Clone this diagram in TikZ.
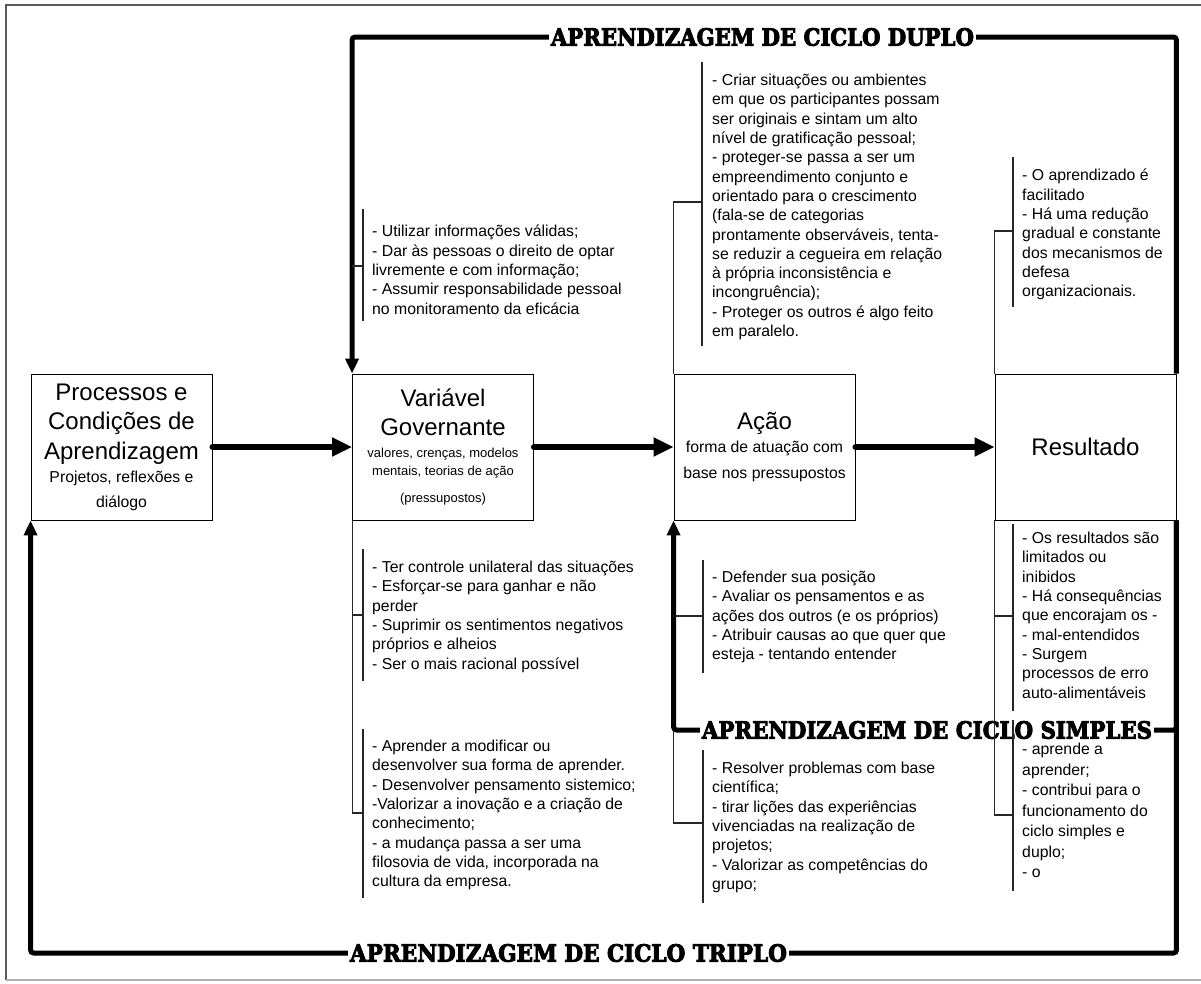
\documentclass[tikz,border=0pt]{standalone}
\usepackage{fontspec}
\setmainfont{Liberation Sans}
\newfontfamily\loopfont{DejaVu Serif}[BoldFeatures={FakeBold=4}]
\usepackage{graphicx}
\usepackage{tikz}
\usetikzlibrary{arrows.meta}
\usetikzlibrary{positioning}

\newcommand{\boxfont}{\fontsize{24}{29.5}\selectfont}
\newcommand{\annotfont}{\fontsize{15.8}{19.3}\selectfont}
\newcommand{\subfont}{\fontsize{15.8}{19.3}\selectfont}
\newcommand{\tinyfont}{\fontsize{13}{16}\selectfont}
\newcommand{\cyclelabel}[2]{\resizebox{#1}{17.5pt}{\loopfont\bfseries #2}}

\begin{document}
\begin{tikzpicture}[x=1pt,y=-1pt,
  stage/.style={draw, line width=0.9pt, minimum width=181pt, minimum height=146pt, inner sep=0pt, align=center, font=\boxfont},
  flow/.style={line width=6pt, line cap=round, -{Triangle[length=20pt,width=18pt]}},
  loopline/.style={line width=5pt, rounded corners=3pt},
  looparrow/.style={loopline, -{Triangle[length=15pt,width=13pt]}},
  cyclename/.style={inner xsep=2pt, inner ysep=0pt},
  remark/.style={anchor=north west, inner sep=0pt, align=left, font=\annotfont},
  brace/.style={line width=1.1pt, black!85}]

  \useasboundingbox (0,0) rectangle (1201,983);

  % outer frame
  \draw[black!65, line width=2pt] (6,980) -- (6,5) -- (1210,5);
  \draw[black!30, line width=1.5pt] (6,980) -- (1210,980);

  % the four stages
  \node[stage] (proc) at (121.5,447) {Processos e\\Condições de\\Aprendizagem\\[-6.5pt]{\subfont Projetos, reflexões e}\\[-4.5pt]{\subfont diálogo}};
  \node[stage] (var) at (443,447) {Variável\\Governante\\[-7.5pt]{\tinyfont valores, crenças, modelos}\\[-11.5pt]{\tinyfont mentais, teorias de ação}\\[-2.5pt]{\tinyfont (pressupostos)}};
  \node[stage] (act) at (764.5,447) {Ação\\[-6.5pt]{\subfont forma de atuação com}\\[-3.5pt]{\subfont base nos pressupostos}};
  \node[stage] (res) at (1085.5,447) {Resultado};

  \draw[flow] (proc) -- (var);
  \draw[flow] (var) -- (act);
  \draw[flow] (act) -- (res);

  % learning loops
  \node[cyclename] (dup) at (762.5,37) {\cyclelabel{423pt}{APRENDIZAGEM DE CICLO DUPLO}};
  \node[cyclename] (simp) at (927,730) {\cyclelabel{450pt}{APRENDIZAGEM DE CICLO SIMPLES}};
  \node[cyclename] (trip) at (568.5,953) {\cyclelabel{437pt}{APRENDIZAGEM DE CICLO TRIPLO}};

  \draw[loopline] (res.north east) |- (dup.east);
  \draw[looparrow] (dup.west) -| (var.north west);
  \draw[loopline] (res.south east) |- (trip.east);
  \draw[loopline] (res.south east) |- (simp.east);
  \draw[looparrow] (simp.west) -| (act.south west);
  \draw[looparrow] (trip.west) -| (proc.south west);

  % notes above the stages
  \node[remark] (vtop) at (372,225) {- Utilizar informações válidas;\\- Dar às pessoas o direito de optar\\livremente e com informação;\\- Assumir responsabilidade pessoal\\no monitoramento da eficácia};
  \node[remark] (atop) at (712,74) {- Criar situações ou ambientes\\em que os participantes possam\\ser originais e sintam um alto\\nível de gratificação pessoal;\\- proteger-se passa a ser um\\empreendimento conjunto e\\orientado para o crescimento\\(fala-se de categorias\\prontamente observáveis, tenta-\\se reduzir a cegueira em relação\\à própria inconsistência e\\incongruência);\\- Proteger os outros é algo feito\\em paralelo.};
  \node[remark] (rtop) at (1022,169) {- O aprendizado é\\facilitado\\- Há uma redução\\gradual e constante\\dos mecanismos de\\defesa\\organizacionais.};

  % notes below the stages
  \node[remark] (vbot) at (372,561) {- Ter controle unilateral das situações\\- Esforçar-se para ganhar e não\\perder\\- Suprimir os sentimentos negativos\\próprios e alheios\\- Ser o mais racional possível};
  \node[remark] (vlow) at (372,740) {- Aprender a modificar ou\\desenvolver sua forma de aprender.\\- Desenvolver pensamento sistemico;\\-Valorizar a inovação e a criação de\\conhecimento;\\- a mudança passa a ser uma\\filosovia de vida, incorporada na\\cultura da empresa.};
  \node[remark] (abot) at (712,571) {- Defender sua posição\\- Avaliar os pensamentos e as\\ações dos outros (e os próprios)\\- Atribuir causas ao que quer que\\esteja - tentando entender};
  \node[remark] (alow) at (712,762) {- Resolver problemas com base\\científica;\\- tirar lições das experiências\\vivenciadas na realização de\\projetos;\\- Valorizar as competências do\\grupo;};
  \node[remark] (rbot) at (1022,532) {- Os resultados são\\limitados ou\\inibidos\\- Há consequências\\que encorajam os -\\- mal-entendidos\\- Surgem\\processos de erro\\auto-alimentáveis};
  \node[remark] (rlow) at (1022,743) {- aprende a\\[1.2pt]aprender;\\[1.2pt]- contribui para o\\[1.2pt]funcionamento do\\[1.2pt]ciclo simples e\\[1.2pt]duplo;\\[1.2pt]- o};

  % brackets
  \draw[brace] (363,209) -- (363,321);
  \draw[brace] (352,266) -- (363,266);
  \draw[brace] (702,62) -- (702,346);
  \draw[brace] (act.north west) |- (702,202);
  \draw[brace] (1013,157) -- (1013,307);
  \draw[brace] (res.north west) |- (1013,231);

  \draw[brace] (363,549) -- (363,681);
  \draw[brace] (363,729) -- (363,898);
  \draw[brace] (var.south west) |- (363,813);
  \draw[brace] (353,615) -- (363,615);
  \draw[brace] (703,560) -- (703,673);
  \draw[brace] (675,616) -- (703,616);
  \draw[brace] (703,750) -- (703,903);
  \draw[brace] (act.south west |- simp.west) |- (703,823);
  \draw[brace] (1013,524) -- (1013,711);
  \draw[brace] (1013,720) -- (1013,891);
  \draw[brace] (res.south west) |- (1013,815);
  \draw[brace] (995,616) -- (1013,616);

\end{tikzpicture}
\end{document}
